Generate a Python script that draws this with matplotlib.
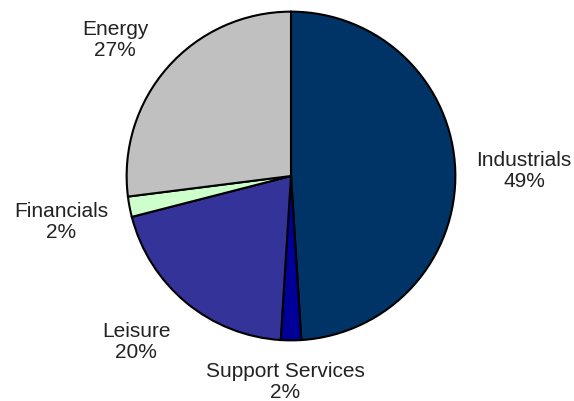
import matplotlib
matplotlib.use("Agg")
import matplotlib.pyplot as plt

# Sector weights, clockwise from 12 o'clock
sectors = ["Industrials", "Support Services", "Leisure", "Financials", "Energy"]
weights = [49, 2, 20, 2, 27]
colors = ["#003366", "#000099", "#333399", "#CCFFCC", "#C0C0C0"]

# label anchor positions in pixels (x, y from top), per sector
label_pos = {
    "Industrials": (524, 171),
    "Support Services": (285, 382),
    "Leisure": (136, 342),
    "Financials": (61, 222),
    "Energy": (115, 40),
}

W, H = 574, 401
fig = plt.figure(figsize=(W / 100, H / 100), dpi=100)
cx, cy, r = 291, 176, 166
ax = fig.add_axes([(cx - r) / W, 1 - (cy + r) / H, 2 * r / W, 2 * r / H])

ax.pie(weights, colors=colors, startangle=90, counterclock=False,
       radius=1.0, wedgeprops=dict(edgecolor="black", linewidth=1.5))
ax.set_xlim(-1.01, 1.01)
ax.set_ylim(-1.01, 1.01)
ax.set_aspect("equal")
ax.axis("off")

for name, w in zip(sectors, weights):
    px, py = label_pos[name]
    fig.text(px / W, 1 - py / H, f"{name}\n{w}%", ha="center", va="center",
             fontsize=15, family="Liberation Sans", color="#222222", linespacing=1.15)

fig.savefig("out.png", dpi=100)
